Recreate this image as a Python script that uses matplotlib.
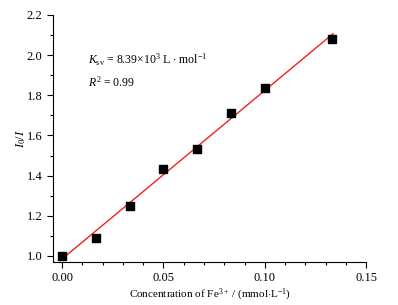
import numpy as np
import matplotlib
matplotlib.use('Agg')
import matplotlib.pyplot as plt
from matplotlib.ticker import MultipleLocator

plt.rcParams['font.family'] = ['Liberation Serif', 'DejaVu Serif']
plt.rcParams['mathtext.fontset'] = 'custom'
plt.rcParams['mathtext.rm'] = 'Liberation Serif'
plt.rcParams['mathtext.it'] = 'Liberation Serif:italic'

# Fe3+ concentration (mmol/L) and I0/I
conc = [0.0, 0.0167, 0.0333, 0.05, 0.0667, 0.0833, 0.1, 0.1333]
ratio = [1.0, 1.09, 1.25, 1.435, 1.535, 1.71, 1.835, 2.08]
fit_slope = 8.39
fit_intercept = 0.985

fig = plt.figure(figsize=(3.98, 3.05), dpi=100)
ax = fig.add_axes([0.133, 0.141, 0.787, 0.81])

xf = np.array([0.0, 0.1337])
ax.plot(xf, fit_intercept + fit_slope * xf, color='#ee2222', lw=1.0, zorder=2)
ax.scatter(conc, ratio, marker='s', s=26, color='black', zorder=3)

ax.set_xlim(-0.0045, 0.15)
ax.set_ylim(0.97, 2.2)
ax.xaxis.set_minor_locator(MultipleLocator(0.01))
ax.yaxis.set_minor_locator(MultipleLocator(0.1))
ax.set_xticks([0.0, 0.05, 0.10, 0.15])
ax.set_xticklabels(['0.00', '0.05', '0.10', '0.15'])
ax.set_yticks([1.0, 1.2, 1.4, 1.6, 1.8, 2.0, 2.2])
ax.set_yticklabels(['1.0', '1.2', '1.4', '1.6', '1.8', '2.0', '2.2'])

for s in ['top', 'right']:
    ax.spines[s].set_visible(False)
ax.tick_params(which='both', direction='out', labelsize=9, width=0.8)
ax.tick_params(which='major', length=4)
ax.tick_params(which='minor', length=2.5)

ax.set_xlabel('Concentration of Fe$^{3+}$ / (mmol$\\cdot$L$^{-1}$)', fontsize=8, labelpad=2)
ax.set_ylabel('$I_0/I$', fontsize=9, labelpad=-1)

ax.text(0.0128, 1.955, '$K_{\\mathrm{sv}}$ = 8.39$\\times$10$^{3}$ L $\\cdot$ mol$^{-1}$', fontsize=8.5)
ax.text(0.0128, 1.845, '$R^{2}$ = 0.99', fontsize=8.5)

fig.savefig('out.png', dpi=100)
